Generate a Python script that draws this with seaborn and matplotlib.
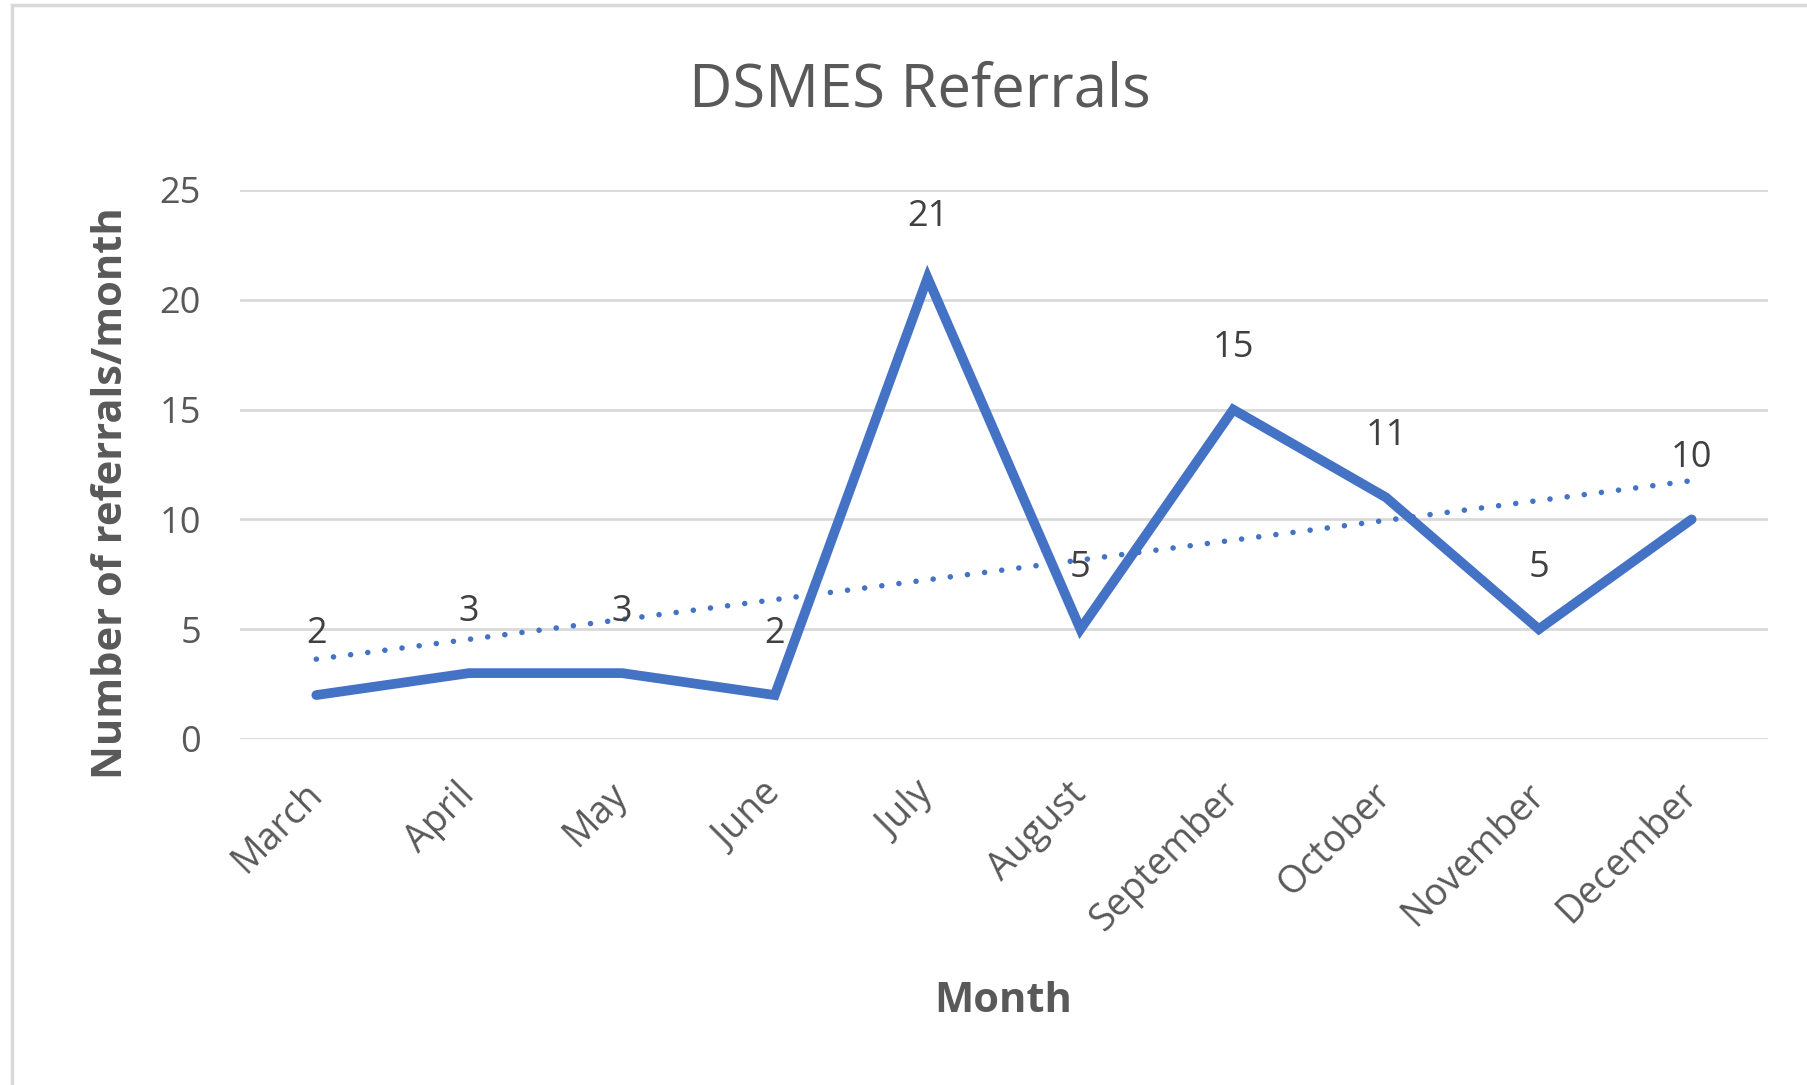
import numpy as np
import pandas as pd
import matplotlib
matplotlib.use("Agg")
import matplotlib.pyplot as plt
import seaborn as sns
from matplotlib.patches import Rectangle

# ==================== DATA ====================
months = ["March", "April", "May", "June", "July", "August",
          "September", "October", "November", "December"]
referrals = [2, 3, 3, 2, 21, 5, 15, 11, 5, 10]
y_ticks = [0, 5, 10, 15, 20, 25]

df = pd.DataFrame({"month": months, "referrals": referrals})
df["pos"] = np.arange(len(df))  # category position on x axis

# ==================== STYLE ====================
sns.set_theme(style="whitegrid")
plt.rcParams["font.family"] = ["Open Sans", "DejaVu Sans"]
blue = "#4472C4"
grey = "#595959"
grid = "#D9D9D9"

fig = plt.figure(figsize=(18.08, 10.85), dpi=100)
ax = fig.add_axes([0.1327, 0.3189, 0.8452, 0.5060])

# main series
sns.lineplot(data=df, x="pos", y="referrals", ax=ax, color=blue, linewidth=7,
             solid_joinstyle="miter", solid_capstyle="round", legend=False)
# linear trendline (dotted)
sns.regplot(data=df, x="pos", y="referrals", ax=ax, scatter=False, ci=None, truncate=True,
            line_kws=dict(color=blue, linewidth=4, linestyle=(0, (0.01, 3.1)),
                          dash_capstyle="round"))

# data labels above points
for p, v in zip(df["pos"], df["referrals"]):
    ax.annotate(str(v), (p, v), xytext=(0, 44), textcoords="offset points",
                ha="center", va="center", fontsize=26, color="#404040")

# ==================== AXES ====================
ax.set_xlim(-0.5, len(months) - 0.5)
ax.set_ylim(0, 25)
ax.set_yticks(y_ticks)
ax.set_xticks(df["pos"])
ax.set_xticklabels(months, rotation=45, ha="right", va="center", rotation_mode="anchor")
ax.tick_params(axis="x", length=0, pad=36, labelsize=27, labelcolor=grey)
ax.tick_params(axis="y", length=0, pad=28, labelsize=26, labelcolor=grey)
ax.grid(axis="y", color=grid, linewidth=2)
ax.grid(axis="x", visible=False)
for s in ax.spines.values():
    s.set_visible(False)
ax.set_xlabel("")
ax.set_ylabel("")

# titles
fig.text(0.509, 0.917, "DSMES Referrals", ha="center", va="center", fontsize=43, color=grey)
fig.text(0.0619, 0.5456, "Number of referrals/month", rotation=90, ha="center", va="center",
         fontsize=30, fontweight="bold", color=grey)
fig.text(0.5548, 0.0774, "Month", ha="center", va="center", fontsize=30,
         fontweight="bold", color=grey)

# chart border (only top and left edges are in frame)
fig.patches.append(Rectangle((12 / 1808, -0.5), 2, 1.5 - 5 / 1085, transform=fig.transFigure,
                             fill=False, edgecolor=grid, linewidth=2.5))

fig.savefig("out.png", dpi=100, facecolor="white")
